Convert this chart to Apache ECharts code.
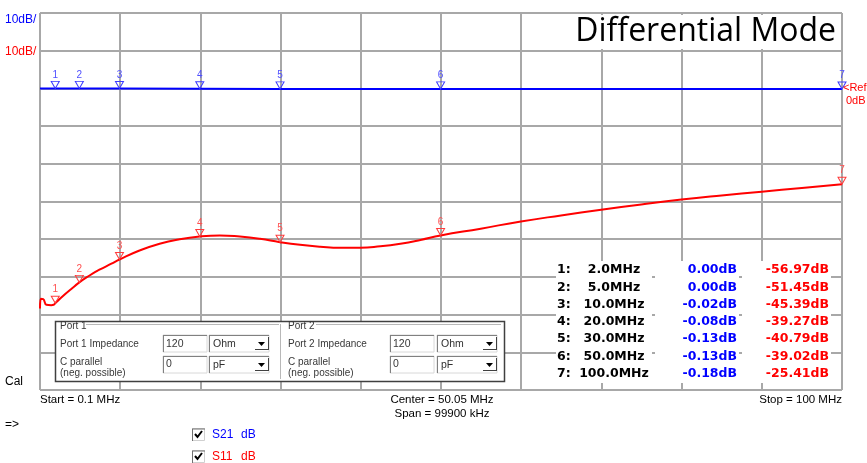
<!DOCTYPE html>
<html><head><meta charset="utf-8">
<script src="https://cdn.jsdelivr.net/npm/echarts@6/dist/echarts.min.js"></script>
<style>html,body{margin:0;padding:0;background:#fff;}#c{width:867px;height:463px;}</style>
</head><body><div id="c"></div>
<script>
// ---- data ----
const s21Freq = [0.1, 2, 5, 10, 20, 30, 50, 100];
const s21Db   = [0.00, 0.00, 0.00, -0.02, -0.08, -0.13, -0.13, -0.18];
const s11Freq = [0.1, 0.2, 0.5, 0.9, 1.5, 1.8, 2, 3, 4, 5, 6, 7.5, 9, 10, 12.5, 15, 17.5, 20, 22.5, 25, 27.5, 30, 32.5, 35, 37.5, 40, 42.5, 45, 47.5, 50, 55, 60, 65, 70, 75, 80, 85, 90, 95, 100];
const s11Db   = [-58.4, -55.8, -55.9, -57.4, -57.5, -57.4, -56.97, -55.0, -53.2, -51.45, -50.0, -48.1, -46.5, -45.39, -43.0, -41.2, -40.0, -39.27, -39.0, -39.3, -39.9, -40.79, -41.5, -42.0, -42.3, -42.3, -41.9, -41.2, -40.2, -39.02, -37.2, -35.3, -33.7, -32.2, -30.8, -29.5, -28.4, -27.4, -26.4, -25.41];
const markerIds  = ['1', '2', '3', '4', '5', '6', '7'];
const markerFreq = [2, 5, 10, 20, 30, 50, 100];
const markerS21  = [0.00, 0.00, -0.02, -0.08, -0.13, -0.13, -0.18];
const markerS11  = [-56.97, -51.45, -45.39, -39.27, -40.79, -39.02, -25.41];
const freqStart = 0.1, freqStop = 100;
const dbTop = 20, dbBottom = -80, dbPerDiv = 10;
const titleText = 'Differential Mode';
const scaleLabel = '10dB/';
const startLabel = 'Start = 0.1 MHz';
const centerLabel = 'Center = 50.05 MHz';
const spanLabel = 'Span = 99900 kHz';
const stopLabel = 'Stop = 100 MHz';
const legendNames = ['S21', 'S11'];

const BLUE = '#0000ff', RED = '#ff0000';
const GRIDC = '#a8a8a8';
const F = "'Liberation Sans', Arial, sans-serif";

function txt(x, y, text, opt) {
  opt = opt || {};
  return { type: 'text', x: x, y: y, z: 100, silent: true,
    style: { text: text, fill: opt.fill || '#000', font: opt.font || ('12px ' + F),
      align: opt.align || 'left', verticalAlign: 'middle' } };
}
function rect(x, y, w, h, fill, stroke, lw, z) {
  return { type: 'rect', z: z || 99, silent: true, shape: { x: x, y: y, width: w, height: h },
    style: { fill: fill || 'none', stroke: stroke || null, lineWidth: lw || 1 } };
}
function line(x1, y1, x2, y2, c, lw) {
  return { type: 'line', z: 101, silent: true, shape: { x1: x1, y1: y1, x2: x2, y2: y2 },
    style: { stroke: c, lineWidth: lw || 1 } };
}
function sunken(x, y, w, h) {
  return [rect(x, y, w, h, '#fff', '#d8d8d8', 1, 100),
    line(x, y + 0.5, x + w, y + 0.5, '#808080'), line(x + 0.5, y, x + 0.5, y + h, '#808080')];
}
function combo(x, y, w, h, label) {
  const els = sunken(x, y, w, h);
  els.push(txt(x + 4, y + h / 2 + 1, label, { font: '10.5px ' + F, fill: '#303030' }));
  const bx = x + w - 15;
  els.push({ type: 'polygon', z: 102, silent: true, shape: { points: [[bx + 4, y + 7], [bx + 11, y + 7], [bx + 7.5, y + 11]] }, style: { fill: '#000' } });
  els.push(line(bx + 1, y + h - 2.5, bx + 14, y + h - 2.5, '#404040'));
  els.push(line(bx + 14.5, y + 2, bx + 14.5, y + h - 2, '#404040'));
  return els;
}

const g = [];
// title box
g.push(rect(522, 15, 319, 34, '#fff', null, 0, 98));
g.push(txt(836, 32, titleText, { font: "32px 'Open Sans', sans-serif", align: 'right' }));
// scale labels
g.push(txt(5, 20, scaleLabel, { fill: BLUE, font: '12px ' + F }));
g.push(txt(5, 52, scaleLabel, { fill: RED, font: '12px ' + F }));
// ref
g.push(txt(843, 88, '<Ref', { fill: RED, font: '11px ' + F }));
g.push(txt(846, 101, '0dB', { fill: RED, font: '11px ' + F }));
// marker table
g.push(rect(556, 261, 96, 122, '#fff', null, 0, 98));
g.push(rect(655, 261, 84, 122, '#fff', null, 0, 98));
g.push(rect(742, 261, 89, 122, '#fff', null, 0, 98));
const TF = "bold 12.5px 'DejaVu Sans', sans-serif";
markerFreq.forEach(function (f, i) {
  const y = 270 + i * 17.3;
  g.push(txt(557, y, markerIds[i] + ':', { font: TF }));
  g.push(txt(614, y, f.toFixed(1) + 'MHz', { font: TF, align: 'center' }));
  g.push(txt(737, y, markerS21[i].toFixed(2) + 'dB', { font: TF, align: 'right', fill: BLUE }));
  g.push(txt(829, y, markerS11[i].toFixed(2) + 'dB', { font: TF, align: 'right', fill: RED }));
});
// port box
g.push(rect(55.5, 321.5, 449, 60, '#fff', '#404040', 1.5, 98));
const PF = '10px ' + F, PC = '#383838';
[[60, 'Port 1', 163, 209, 86, 279], [288, 'Port 2', 390, 437, 316, 501]].forEach(function (p, k) {
  g.push(txt(p[0], 326, p[1], { font: PF, fill: PC }));
  g.push(line(p[4], 324.5, p[5], 324.5, '#b8b8b8'));
  g.push(txt(p[0], 344, p[1] + ' Impedance', { font: PF, fill: PC }));
  g.push(txt(p[0], 362, 'C parallel', { font: PF, fill: PC }));
  g.push(txt(p[0], 373, '(neg. possible)', { font: PF, fill: PC }));
  sunken(p[2], 335, 44, 17).forEach(function (e) { g.push(e); });
  g.push(txt(p[2] + 3, 344, '120', { font: '10.5px ' + F, fill: PC }));
  combo(p[3], 335, 60, 17, 'Ohm').forEach(function (e) { g.push(e); });
  sunken(p[2], 356, 44, 17).forEach(function (e) { g.push(e); });
  g.push(txt(p[2] + 3, 364, '0', { font: '10.5px ' + F, fill: PC }));
  combo(p[3], 356, 60, 17, 'pF').forEach(function (e) { g.push(e); });
});
g.push(line(280.5, 324, 280.5, 379, '#b8b8b8'));
// bottom labels
g.push(txt(5, 382, 'Cal', { font: '12px ' + F }));
g.push(txt(40, 400, startLabel, { font: '11.5px ' + F }));
g.push(txt(442, 400, centerLabel, { font: '11.5px ' + F, align: 'center' }));
g.push(txt(442, 414, spanLabel, { font: '11.5px ' + F, align: 'center' }));
g.push(txt(842, 400, stopLabel, { font: '11.5px ' + F, align: 'right' }));
g.push(txt(5, 425, '=>', { font: '12px ' + F }));
// legend checkboxes
[[435, legendNames[0], BLUE], [457, legendNames[1], RED]].forEach(function (l) {
  const y = l[0];
  g.push(rect(192.5, y - 6.5, 12, 12, '#fff', '#d0d0d0', 1, 100));
  g.push(line(192, y - 6, 205, y - 6, '#707070'));
  g.push(line(192.5, y - 6, 192.5, y + 6, '#707070'));
  g.push({ type: 'polyline', z: 102, silent: true, shape: { points: [[195, y - 1], [197.5, y + 2], [202, y - 4]] }, style: { stroke: '#000', lineWidth: 2, fill: 'none' } });
  g.push(txt(212, y, l[1], { fill: l[2], font: '12px ' + F }));
  g.push(txt(241, y, 'dB', { fill: l[2], font: '12px ' + F }));
});

function zip(a, b) { return a.map(function (v, i) { return [v, b[i]]; }); }
const tri = 'path://M0,0L10,0L5,9Z';
function markerSeries(vals, col, labCol) {
  return { type: 'scatter', xAxisIndex: 0, yAxisIndex: 0, z: 5,
    data: zip(markerFreq, vals), symbol: tri, symbolSize: [8, 7], symbolOffset: [0, -3.5],
    symbolKeepAspect: false,
    itemStyle: { color: 'rgba(255,255,255,0)', borderColor: col, borderWidth: 1, opacity: 1 },
    label: { show: true, position: 'top', distance: 1, color: labCol, fontSize: 10, fontFamily: 'Liberation Sans',
      formatter: function (p) { return markerIds[p.dataIndex]; } },
    emphasis: { disabled: true } };
}

const chart = echarts.init(document.getElementById('c'), null, { renderer: 'canvas' });
chart.setOption({
  animation: false,
  backgroundColor: '#fff',
  grid: { left: 40, top: 13, width: 802, height: 377, containLabel: false, show: false },
  xAxis: [
    { type: 'value', min: freqStart, max: freqStop, show: false },
    { type: 'value', min: 0, max: 10, interval: 1, position: 'bottom',
      axisLine: { show: false }, axisTick: { show: false }, axisLabel: { show: false },
      splitLine: { show: true, lineStyle: { color: GRIDC, width: 2 } } }
  ],
  yAxis: [{ type: 'value', min: dbBottom, max: dbTop, interval: dbPerDiv,
    axisLine: { show: false }, axisTick: { show: false }, axisLabel: { show: false },
    splitLine: { show: true, lineStyle: { color: GRIDC, width: 2 } } }],
  series: [
    { name: 'S21', type: 'line', xAxisIndex: 0, yAxisIndex: 0, data: zip(s21Freq, s21Db),
      symbol: 'none', lineStyle: { color: BLUE, width: 2 }, itemStyle: { color: BLUE }, z: 3 },
    { name: 'S11', type: 'line', xAxisIndex: 0, yAxisIndex: 0, data: zip(s11Freq, s11Db),
      symbol: 'none', smooth: 0.5, lineStyle: { color: RED, width: 2 }, itemStyle: { color: RED }, z: 3 },
    markerSeries(markerS21, '#3c3cff', '#5050ff'),
    markerSeries(markerS11, '#ff3c3c', '#ff5050')
  ],
  graphic: g
});
</script>
</body></html>
